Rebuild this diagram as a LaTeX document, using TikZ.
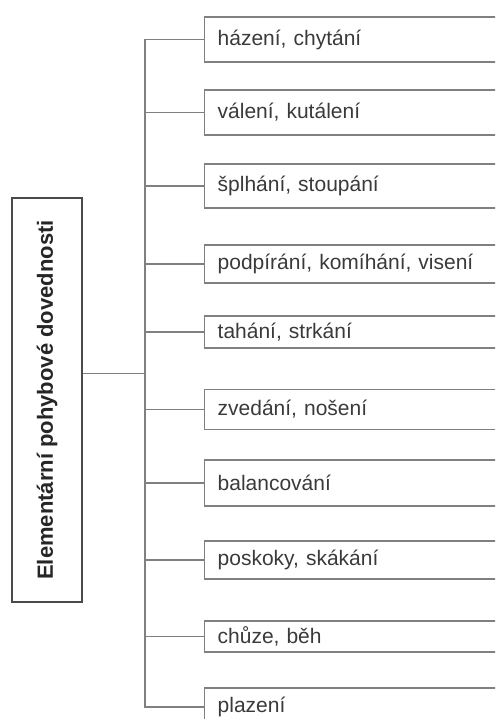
\documentclass[tikz,border=0pt]{standalone}
\usepackage{fontspec}
\setmainfont{Liberation Sans}
\definecolor{linegray}{HTML}{808080}
\definecolor{boxgray}{HTML}{4A4A4A}
\definecolor{textgray}{HTML}{3A3A3A}

\begin{document}
\begin{tikzpicture}[x=1pt,y=1pt,grow'=right,
  skill/.style={draw=linegray,line width=1.4pt,anchor=west,text width=300pt,
    inner xsep=13pt,inner ysep=0pt,align=left,text=textgray,
    font=\fontsize{21}{25}\selectfont},
  level 1/.style={sibling distance=74.1pt,level distance=59pt},
  edge from parent/.style={draw=linegray,line width=1.4pt},
  edge from parent path={(\tikzparentnode) |- (\tikzchildnode.west)}]
  \clip (0,0) rectangle (495,719);
  \node [draw=boxgray,line width=2.6pt,rotate=90,minimum width=404pt,
    minimum height=70pt,text=black!85,font=\fontsize{22}{26}\selectfont\bfseries]
    (root) at (47,319) {Elementární pohybové dovednosti};
  \node [coordinate] (hub) at (145,345.5) {}
    child foreach \n/\h/\dy/\txt in {
      1/45/0.5/házení{,} chytání,
      2/45/1.6/válení{,} kutálení,
      3/44/2.2/šplhání{,} stoupání,
      4/38/-1.7/podpírání{,} komíhání{,} visení,
      5/32/4.4/tahání{,} strkání,
      6/40/1/zvedání{,} nošení,
      7/46/1.6/balancování,
      8/38/-1.3/poskoky{,} skákání,
      9/31/-3.7/chůze{,} běh,
      10/38/0/plazení}
      {node [skill,minimum height=\h pt,yshift=\dy pt] (b\n) {\txt}};
  \draw [draw=linegray,line width=1.4pt] (root.south |- hub) -- (hub);
\end{tikzpicture}
\end{document}
